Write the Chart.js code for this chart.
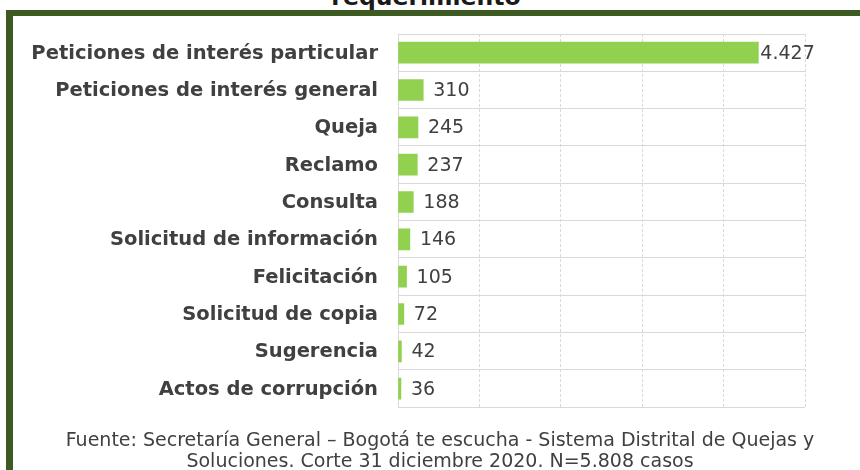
<!DOCTYPE html>
<html>
<head>
<meta charset="utf-8">
<script src="https://cdn.jsdelivr.net/npm/chart.js@4.4.1/dist/chart.umd.min.js"></script>
<style>
    body { margin: 0; background: #fff; }
    #page { position: relative; width: 860px; height: 470px; overflow: hidden; background: #fff; font-family: "DejaVu Sans", Verdana, sans-serif; }
    #frame { position: absolute; left: 6px; top: 10px; width: 900px; height: 500px; border-left: 7px solid #3d5a23; border-top: 6px solid #3d5a23; }
    #title { position: absolute; left: 0; width: 852px; top: -17px; text-align: center; font-weight: bold; font-size: 23.5px; color: #1a1a1a; }
    #chartBox { position: absolute; left: 0; top: 0; width: 860px; height: 439px; }
    #source { position: absolute; left: 0; width: 880px; top: 429px; text-align: center; font-size: 19px; line-height: 21px; color: #404040; }
</style>
</head>
<body>
<div id="page">
    <div id="title">requerimiento</div>
    <div id="frame"></div>
    <div id="chartBox"><canvas id="chart"></canvas></div>
    <div id="source">Fuente: Secretaría General – Bogotá te escucha - Sistema Distrital de Quejas y<br>Soluciones. Corte 31 diciembre 2020. N=5.808 casos</div>
</div>
<script>
// Tipos de requerimiento
const categories = [
    'Peticiones de interés particular',
    'Peticiones de interés general',
    'Queja',
    'Reclamo',
    'Consulta',
    'Solicitud de información',
    'Felicitación',
    'Solicitud de copia',
    'Sugerencia',
    'Actos de corrupción'
];
const casos = [4427, 310, 245, 237, 188, 146, 105, 72, 42, 36];
const axisMax = 5000;
const axisStep = 1000;

// miles con punto: 4427 -> 4.427
function formatNum(v) {
    return String(v).replace(/\B(?=(\d{3})+(?!\d))/g, '.');
}

/**
 * Etiquetas de valor a la derecha de cada barra
 */
const valueLabels = {
    id: 'valueLabels',
    afterDatasetsDraw(chart) {
        const ctx = chart.ctx;
        const meta = chart.getDatasetMeta(0);
        const maxVal = Math.max(...casos);
        ctx.save();
        ctx.font = '19px "DejaVu Sans", Verdana, sans-serif';
        ctx.fillStyle = '#404040';
        ctx.textBaseline = 'middle';
        ctx.textAlign = 'left';
        meta.data.forEach((bar, i) => {
            const v = casos[i];
            const gap = v === maxVal ? 2 : 10;
            ctx.fillText(formatNum(v), bar.x + gap, bar.y + 1);
        });
        ctx.restore();
    }
};

const ctx = document.getElementById('chart').getContext('2d');
new Chart(ctx, {
    type: 'bar',
    data: {
        labels: categories,
        datasets: [{
            data: casos,
            backgroundColor: '#92d050',
            borderWidth: 0,
            barThickness: 21
        }]
    },
    options: {
        indexAxis: 'y',
        responsive: true,
        maintainAspectRatio: false,
        animation: false,
        layout: { padding: { left: 13, right: 55, top: 34, bottom: 13 } },
        plugins: {
            legend: { display: false },
            tooltip: { enabled: false }
        },
        scales: {
            x: {
                min: 0,
                max: axisMax,
                ticks: { display: false, stepSize: axisStep },
                grid: { color: '#d9d9d9', drawTicks: false, lineWidth: 1 },
                // vertical lines dashed, bottom line comes from the y grid
                border: { display: false, dash: [3, 2] },
                afterFit: (s) => { s.height = 0; }
            },
            y: {
                grid: { color: '#d9d9d9', drawTicks: false, offset: true },
                border: { display: true, color: '#d9d9d9' },
                ticks: {
                    color: '#404040',
                    padding: 20,
                    labelOffset: 1,
                    font: { family: '"DejaVu Sans", Verdana, sans-serif', size: 19.5, weight: 'bold' }
                },
                afterFit: (s) => { s.width = 385; }
            }
        }
    },
    plugins: [valueLabels]
});
</script>
</body>
</html>
